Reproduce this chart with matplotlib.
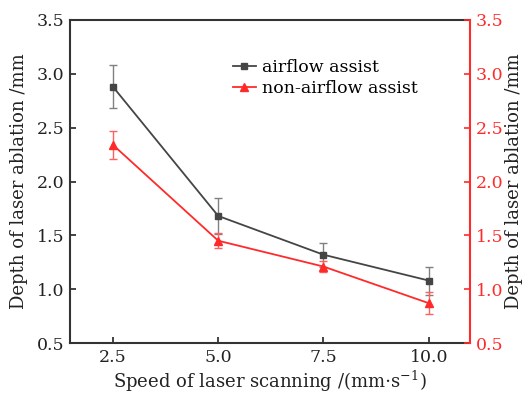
import matplotlib
matplotlib.use("Agg")
import matplotlib.pyplot as plt
from matplotlib.lines import Line2D

speed = [2.5, 5.0, 7.5, 10.0]
airflow = [2.88, 1.68, 1.32, 1.08]
airflow_err = [0.20, 0.17, 0.11, 0.13]
non_airflow = [2.34, 1.45, 1.21, 0.87]
non_airflow_err = [0.13, 0.07, 0.05, 0.10]
xticks = [2.5, 5.0, 7.5, 10.0]
yticks = [0.5, 1.0, 1.5, 2.0, 2.5, 3.0, 3.5]
labels = ['airflow assist', 'non-airflow assist']

plt.rcParams['font.family'] = ['DejaVu Serif']
plt.rcParams['mathtext.fontset'] = 'dejavuserif'

gray = '#454545'
red = '#ff2a2a'

fig = plt.figure(figsize=(5.28, 3.98), dpi=100)
ax = fig.add_axes([70/528, 1-343/398, 400/528, 323/398])

ax.errorbar(speed, airflow, yerr=airflow_err, color=gray, marker='s', markersize=5,
            linewidth=1.3, ecolor='#808080', elinewidth=1.0, capsize=3, capthick=1.0,
            zorder=3)
ax.errorbar(speed, non_airflow, yerr=non_airflow_err, color=red, marker='^', markersize=5.5,
            linewidth=1.3, ecolor='#ff6060', elinewidth=1.0, capsize=3, capthick=1.0,
            zorder=3)

ax.set_xlim(1.48, 10.98)
ax.set_ylim(0.5, 3.5)
ax.set_xticks(xticks)
ax.set_xticklabels([f'{v:.1f}' for v in xticks])
ax.set_yticks(yticks)
ax.set_yticklabels([f'{v:.1f}' for v in yticks])
ax.tick_params(direction='in', length=4, width=1.2, labelsize=12.5, colors='#222222', pad=4)
ax.tick_params(axis='y', right=False)
for s in ['left', 'bottom', 'top']:
    ax.spines[s].set_linewidth(1.5)
    ax.spines[s].set_color('#333333')
ax.spines['right'].set_visible(False)

ax.set_xlabel('Speed of laser scanning /(mm$\\cdot$s$^{-1}$)', fontsize=13, color='#222222', labelpad=2)
ax.set_ylabel('Depth of laser ablation /mm', fontsize=13, color='#222222', labelpad=6)

ax2 = ax.twinx()
ax2.set_ylim(0.5, 3.5)
ax2.set_yticks(yticks)
ax2.set_yticklabels([f'{v:.1f}' for v in yticks])
ax2.tick_params(direction='in', length=4, width=1.2, labelsize=12.5, colors=red, pad=4)
ax2.spines['right'].set_color(red)
ax2.spines['right'].set_linewidth(1.5)
for s in ['left', 'bottom', 'top']:
    ax2.spines[s].set_visible(False)
ax2.set_ylabel('Depth of laser ablation /mm', fontsize=13, color='#222222', rotation=90, labelpad=1)

handles = [Line2D([], [], color=gray, marker='s', markersize=5, linewidth=1.3),
           Line2D([], [], color=red, marker='^', markersize=5.5, linewidth=1.3)]
ax.legend(handles, labels, loc='upper left', bbox_to_anchor=(0.39, 0.90), frameon=False,
          fontsize=12.5, handlelength=1.3, handletextpad=0.4, labelspacing=0.2, borderaxespad=0)

fig.savefig('out.png', dpi=100)
